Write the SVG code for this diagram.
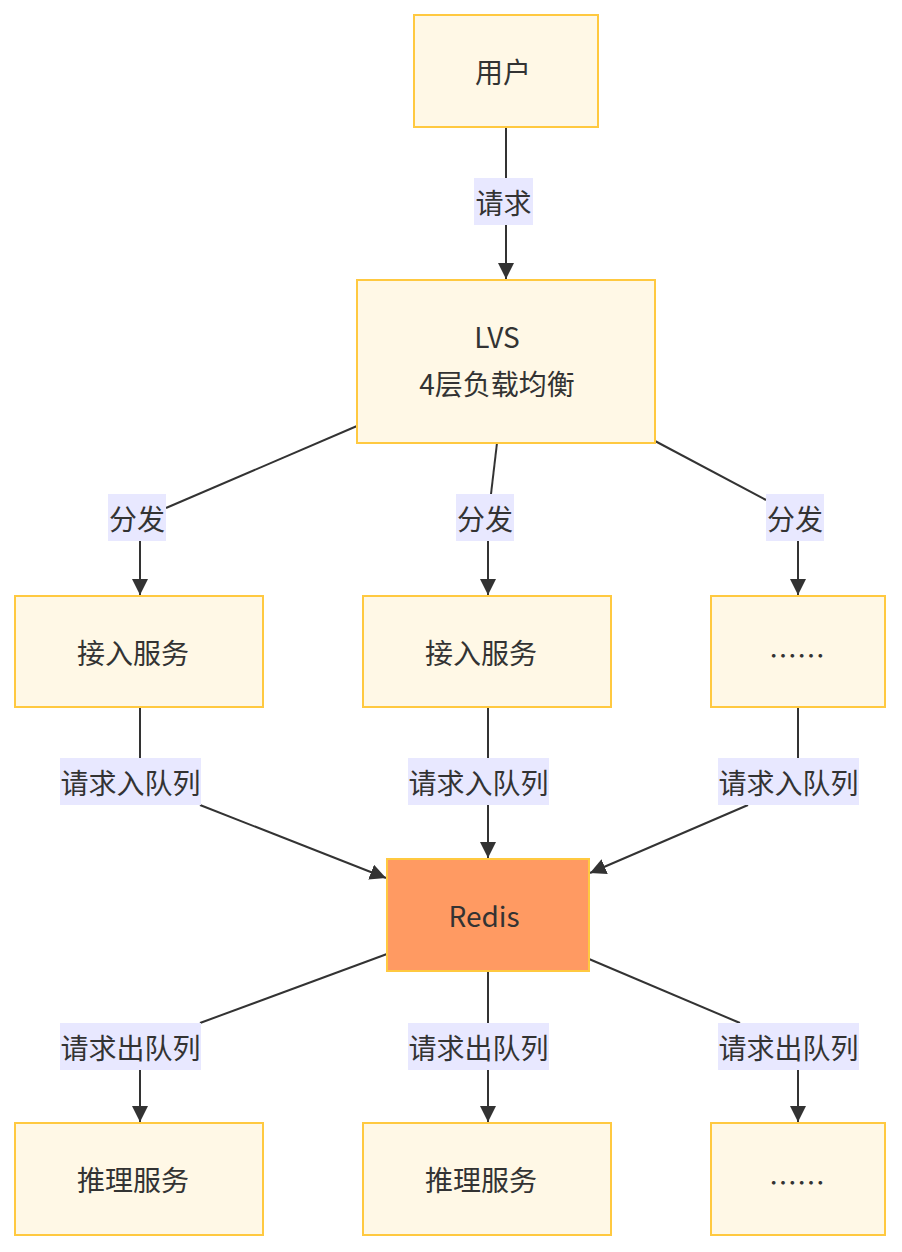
<svg xmlns="http://www.w3.org/2000/svg" width="902" height="1252" viewBox="0 0 902 1252">
<style>
.node rect{fill:#fff8e6;stroke:#ffc940;stroke-width:2}
.node.redis rect{fill:#ff9a62}
text{font-family:"Noto Sans CJK SC","Noto Sans",sans-serif;font-size:28px;fill:#333;text-anchor:middle;dominant-baseline:central}
.edge{stroke:#333;stroke-width:2;fill:none}
.lbl rect{fill:#e8e8ff}
</style>
<defs>
<marker id="arr" viewBox="0 0 10 10" markerWidth="16" markerHeight="16" refX="10" refY="5" orient="auto" markerUnits="userSpaceOnUse">
<path d="M0,0 L10,5 L0,10 z" fill="#333"/>
</marker>
</defs>
<rect width="902" height="1252" fill="#fff"/>
<g id="connectors">
<line class="edge" x1="506" y1="127" x2="506" y2="178"/>
<line class="edge" x1="506" y1="225" x2="506" y2="279" marker-end="url(#arr)"/>
<line class="edge" x1="357" y1="426" x2="166" y2="508"/>
<line class="edge" x1="140" y1="541" x2="140" y2="595" marker-end="url(#arr)"/>
<line class="edge" x1="497" y1="443" x2="491" y2="494"/>
<line class="edge" x1="488" y1="541" x2="488" y2="595" marker-end="url(#arr)"/>
<line class="edge" x1="655" y1="441" x2="766" y2="500"/>
<line class="edge" x1="798" y1="541" x2="798" y2="595" marker-end="url(#arr)"/>
<line class="edge" x1="140" y1="707" x2="140" y2="758"/>
<line class="edge" x1="200" y1="805" x2="386" y2="878" marker-end="url(#arr)"/>
<line class="edge" x1="488" y1="707" x2="488" y2="758"/>
<line class="edge" x1="488" y1="805" x2="488" y2="858" marker-end="url(#arr)"/>
<line class="edge" x1="798" y1="707" x2="798" y2="758"/>
<line class="edge" x1="748" y1="805" x2="590" y2="873" marker-end="url(#arr)"/>
<line class="edge" x1="387" y1="954" x2="200" y2="1023"/>
<line class="edge" x1="140" y1="1070" x2="140" y2="1122" marker-end="url(#arr)"/>
<line class="edge" x1="488" y1="971" x2="488" y2="1023"/>
<line class="edge" x1="488" y1="1070" x2="488" y2="1122" marker-end="url(#arr)"/>
<line class="edge" x1="589" y1="959" x2="740" y2="1023"/>
<line class="edge" x1="798" y1="1070" x2="798" y2="1122" marker-end="url(#arr)"/>
</g>
<g id="edge-labels">
<g class="lbl"><rect x="474" y="178" width="59" height="47"/><text x="503.5" y="202">请求</text></g>
<g class="lbl"><rect x="108" y="494" width="58" height="47"/><text x="137" y="518">分发</text></g>
<g class="lbl"><rect x="456" y="494" width="58" height="47"/><text x="485" y="518">分发</text></g>
<g class="lbl"><rect x="766" y="494" width="58" height="47"/><text x="795" y="518">分发</text></g>
<g class="lbl"><rect x="60" y="758" width="141" height="47"/><text x="130.5" y="782">请求入队列</text></g>
<g class="lbl"><rect x="408" y="758" width="141" height="47"/><text x="478.5" y="782">请求入队列</text></g>
<g class="lbl"><rect x="718" y="758" width="141" height="47"/><text x="788.5" y="782">请求入队列</text></g>
<g class="lbl"><rect x="60" y="1023" width="141" height="47"/><text x="130.5" y="1047">请求出队列</text></g>
<g class="lbl"><rect x="408" y="1023" width="141" height="47"/><text x="478.5" y="1047">请求出队列</text></g>
<g class="lbl"><rect x="718" y="1023" width="141" height="47"/><text x="788.5" y="1047">请求出队列</text></g>
</g>
<g id="user" class="node"><rect x="414" y="15" width="184" height="112"/><text x="503" y="71">用户</text></g>
<g id="lvs" class="node"><rect x="357" y="280" width="298" height="163"/><text x="497" y="336">LVS</text><text x="497" y="383">4层负载均衡</text></g>
<g id="access1" class="node"><rect x="15" y="596" width="248" height="111"/><text x="133" y="652">接入服务</text></g>
<g id="access2" class="node"><rect x="363" y="596" width="248" height="111"/><text x="481" y="652">接入服务</text></g>
<g id="access3" class="node"><rect x="711" y="596" width="174" height="111"/><text x="797" y="655">……</text></g>
<g id="redis" class="node redis"><rect x="387" y="859" width="202" height="112"/><text x="484" y="915">Redis</text></g>
<g id="infer1" class="node"><rect x="15" y="1123" width="248" height="112"/><text x="133" y="1179">推理服务</text></g>
<g id="infer2" class="node"><rect x="363" y="1123" width="248" height="112"/><text x="481" y="1179">推理服务</text></g>
<g id="infer3" class="node"><rect x="711" y="1123" width="174" height="112"/><text x="797" y="1182">……</text></g>
</svg>
